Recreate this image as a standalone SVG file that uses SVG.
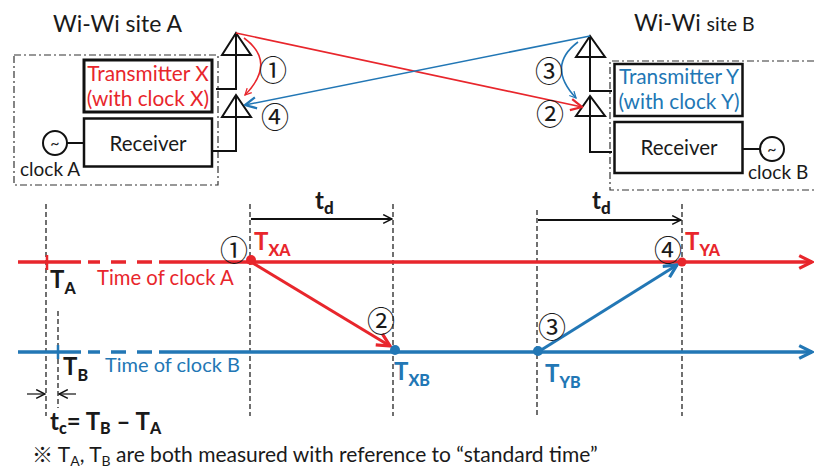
<svg xmlns="http://www.w3.org/2000/svg" width="814" height="469" viewBox="0 0 814 469">
<style>
text{font-family:"Lato","Open Sans",sans-serif;fill:#1a1a1a}
.box{fill:#fff;stroke:#111;stroke-width:2.5}
.dd{fill:none;stroke:#333;stroke-width:1.2;stroke-dasharray:7 3 2 3}
.w{fill:none;stroke:#111;stroke-width:2}
.v{fill:none;stroke:#111;stroke-width:1.2;stroke-dasharray:5 3}
.b{font-weight:700}
.r{fill:#e8262c}.bl{fill:#2277b5}
.tr{fill:#e8262c}.tb{fill:#2277b5}
.sub{font-size:16px;font-weight:900}
.c{font-size:28px;font-family:"Noto Sans CJK JP","Noto Sans",sans-serif;text-anchor:middle}
</style>
<defs>
<marker id="ar" viewBox="0 0 10 10" refX="9" refY="5" markerWidth="8" markerHeight="8" orient="auto" markerUnits="userSpaceOnUse"><path d="M1 1L9 5L1 9" fill="none" stroke="#e8262c" stroke-width="1.6"/></marker>
<marker id="ab" viewBox="0 0 10 10" refX="9" refY="5" markerWidth="8" markerHeight="8" orient="auto" markerUnits="userSpaceOnUse"><path d="M1 1L9 5L1 9" fill="none" stroke="#2277b5" stroke-width="1.6"/></marker>
<marker id="ar2" viewBox="0 0 10 10" refX="9" refY="5" markerWidth="14" markerHeight="14" orient="auto" markerUnits="userSpaceOnUse"><path d="M1 1L9 5L1 9" fill="none" stroke="#e8262c" stroke-width="1.6"/></marker>
<marker id="ab2" viewBox="0 0 10 10" refX="9" refY="5" markerWidth="14" markerHeight="14" orient="auto" markerUnits="userSpaceOnUse"><path d="M1 1L9 5L1 9" fill="none" stroke="#2277b5" stroke-width="1.6"/></marker>
<marker id="ar3" viewBox="0 0 10 10" refX="9" refY="5" markerWidth="16" markerHeight="16" orient="auto" markerUnits="userSpaceOnUse"><path d="M1 1L9 5L1 9" fill="none" stroke="#e8262c" stroke-width="2"/></marker>
<marker id="ab3" viewBox="0 0 10 10" refX="9" refY="5" markerWidth="16" markerHeight="16" orient="auto" markerUnits="userSpaceOnUse"><path d="M1 1L9 5L1 9" fill="none" stroke="#2277b5" stroke-width="2"/></marker>
<marker id="ak" viewBox="0 0 10 10" refX="9" refY="5" markerWidth="11" markerHeight="11" orient="auto" markerUnits="userSpaceOnUse"><path d="M1 1L9 5L1 9" fill="none" stroke="#111" stroke-width="1.4"/></marker>
</defs>
<g id="title-a"><text x="53" y="32" font-size="23">Wi-Wi site A</text></g>
<g id="title-b"><text x="634" y="31" font-size="23">Wi-Wi <tspan font-size="19.500">site B</tspan></text></g>
<g id="site-a-frame"><rect class="dd" x="14" y="55" width="204" height="130"/></g>
<g id="site-b-frame"><path class="dd" d="M814 61H610V190H814"/></g>
<g id="transmitter-x"><rect class="box" x="84" y="60" width="128" height="52" style="stroke-width:3"/><text x="148" y="81" font-size="20.800" text-anchor="middle" class="tr">Transmitter X</text><text x="148" y="106" font-size="20.800" text-anchor="middle" class="tr">(with clock X)</text></g>
<g id="receiver-a"><rect class="box" x="84" y="118.500" width="128" height="48"/><text x="148" y="151" font-size="20.500" text-anchor="middle">Receiver</text></g>
<g id="clock-a"><circle cx="55" cy="143" r="12" fill="none" stroke="#111" stroke-width="2"/><text x="55" y="149" font-size="16" text-anchor="middle">~</text><path class="w" d="M67 143H84"/><text x="20" y="176" font-size="19">clock A</text></g>
<g id="transmitter-y"><rect class="box" x="614.500" y="64" width="128" height="52"/><text x="679" y="84" font-size="20.800" text-anchor="middle" class="tb">Transmitter Y</text><text x="679" y="109" font-size="20.800" text-anchor="middle" class="tb">(with clock Y)</text></g>
<g id="receiver-b"><rect class="box" x="614.500" y="122" width="128" height="51"/><text x="679" y="155" font-size="20.500" text-anchor="middle">Receiver</text></g>
<g id="clock-b"><circle cx="772" cy="149" r="12" fill="none" stroke="#111" stroke-width="2"/><text x="772" y="155" font-size="16" text-anchor="middle">~</text><path class="w" d="M743 149H760"/><text x="748" y="179" font-size="19">clock B</text></g>
<g id="antenna-a1"><path class="w" d="M236 33L222 55H251ZM236 33V89H216"/></g>
<g id="antenna-a2"><path class="w" d="M236 95L222 117H251ZM236 95V151H213"/></g>
<g id="antenna-b1"><path class="w" d="M590 36L576 57H605ZM590 36V91H612"/></g>
<g id="antenna-b2"><path class="w" d="M590 96L576 116H605ZM590 96V152H612"/></g>
<g id="connectors" fill="none">
<path d="M236 33L582 107" stroke="#e8262c" stroke-width="1.6" marker-end="url(#ar2)"/>
<path d="M590 36L245 105" stroke="#2277b5" stroke-width="1.6" marker-end="url(#ab2)"/>
<path d="M244 38Q277 62 245 95" stroke="#e8262c" stroke-width="1.6" marker-end="url(#ar)"/>
<path d="M578 42Q546 66 576 98" stroke="#2277b5" stroke-width="1.6" marker-end="url(#ab)"/>
<path d="M46 204V416" class="v"/><path d="M58 311V408" class="v"/>
<path d="M250 204V416" class="v"/><path d="M393 204V416" class="v"/>
<path d="M537 210V416" class="v"/><path d="M682 204V416" class="v"/>
<path d="M251 219H392" stroke="#111" stroke-width="1.8" marker-end="url(#ak)"/>
<path d="M538 220H681" stroke="#111" stroke-width="1.8" marker-end="url(#ak)"/>
<path d="M27 394H45" stroke="#111" stroke-width="1.2" marker-end="url(#ak)"/>
<path d="M76 394H59" stroke="#111" stroke-width="1.2" marker-end="url(#ak)"/>
<path d="M18 262H81M88 262H100M111 262H126M137 262H152M159 262H812" stroke="#e8262c" stroke-width="3.500" marker-end="url(#ar3)"/>
<path d="M18 352H81M88 352H100M111 352H126M137 352H152M159 352H812" stroke="#2277b5" stroke-width="3.500" marker-end="url(#ab3)"/>
<path d="M251 262L390 346" stroke="#e8262c" stroke-width="3" marker-end="url(#ar3)"/>
<path d="M538 352L677 265" stroke="#2277b5" stroke-width="3" marker-end="url(#ab3)"/>
<path d="M47 255V270" stroke="#e8262c" stroke-width="2.500"/><path d="M58 345V359" stroke="#2277b5" stroke-width="2.500"/>
<circle cx="251" cy="260" r="5" class="r"/><circle cx="682" cy="262" r="4.500" class="r"/>
<circle cx="395" cy="350" r="5" class="bl"/><circle cx="538" cy="351" r="5" class="bl"/>
</g>
<g id="markers">
<text x="273" y="80.500" class="c">①</text>
<text x="275" y="127.500" class="c">④</text>
<text x="549" y="81.500" class="c">③</text>
<text x="550" y="124.500" class="c">②</text>
<text x="234" y="260.500" class="c">①</text>
<text x="381" y="331.500" class="c">②</text>
<text x="552" y="337.500" class="c">③</text>
<text x="668" y="260.500" class="c">④</text>
</g>
<g id="time-labels">
<text x="97" y="285" font-size="20.300" class="tr">Time of clock A</text>
<text x="105" y="372" font-size="20" class="tb">Time of clock B</text>
<text x="315" y="209" font-size="24" class="b">t<tspan class="sub" dy="5" style="font-size:17px">d</tspan></text>
<text x="592" y="209" font-size="24" class="b">t<tspan class="sub" dy="5" style="font-size:17px">d</tspan></text>
<text x="50" y="288" font-size="24" class="b">T<tspan class="sub" dy="6">A</tspan></text>
<text x="63" y="375" font-size="24" class="b">T<tspan class="sub" dy="6">B</tspan></text>
<text x="254" y="250" font-size="24" class="b tr">T<tspan class="sub tr" dy="6">XA</tspan></text>
<text x="685" y="250" font-size="24" class="b tr">T<tspan class="sub tr" dy="6">YA</tspan></text>
<text x="394" y="380" font-size="24" class="b tb">T<tspan class="sub tb" dy="6">XB</tspan></text>
<text x="545" y="382" font-size="24" class="b tb">T<tspan class="sub tb" dy="6">YB</tspan></text>
<text x="50" y="430" font-size="24" class="b">t<tspan class="sub" dy="4">c</tspan><tspan dy="-4">= T</tspan><tspan class="sub" dy="4">B</tspan><tspan dy="-4"> – T</tspan><tspan class="sub" dy="4">A</tspan></text>
<text x="32" y="462" font-size="21"><tspan font-family="Noto Sans CJK JP">※</tspan> T<tspan font-size="14" dy="4">A</tspan><tspan dy="-4">, T</tspan><tspan font-size="14" dy="4">B</tspan><tspan dy="-4"> are both measured with reference to “standard time”</tspan></text>
</g>
</svg>
